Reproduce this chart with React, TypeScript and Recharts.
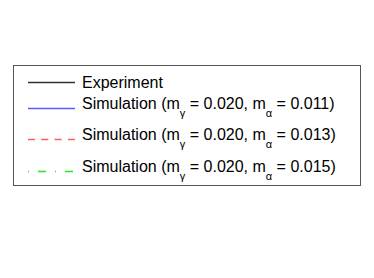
import React from 'react';
import { LineChart, Line, XAxis, YAxis, Legend } from 'recharts';

// legend labels of the figure (the plot itself is outside this crop)
const seriesKeys = ['exp', 'sim1', 'sim2', 'sim3'];
const seriesNames = ['Experiment', 'Simulation', 'Simulation', 'Simulation'];
const mGamma = [null, '0.020', '0.020', '0.020'];
const mAlpha = [null, '0.011', '0.013', '0.015'];
const seriesColors = ['#333333', '#5a5aff', '#ff5c5c', '#1ee81e'];
const seriesDash = ['', '', '7 6.3', '1 9 8 9'];

const chartData: any[] = [];

const FONT = '"Liberation Sans", Arial, Helvetica, sans-serif';

// vertical position of each row inside the legend box: [line y, text baseline]
const ROWS = [[17, 23], [43, 44], [74, 75], [106, 107]];

const LegendBox = () => (
  <svg width={349} height={122} style={{ display: 'block' }}>
    <rect x={0.5} y={0.5} width={347} height={120} fill="#fff" stroke="#555" strokeWidth={1} />
    {seriesKeys.map((key, i) => {
      const [ly, by] = ROWS[i];
      return (
        <g key={key}>
          <line x1={15} x2={62} y1={ly + 0.5} y2={ly + 0.5} stroke={seriesColors[i]}
            strokeWidth={1.3} strokeDasharray={seriesDash[i] || undefined} />
          <text x={69} y={by} fontFamily={FONT} fontSize={16} fill="#000">
            {mGamma[i] == null ? seriesNames[i] : (
              <>
                <tspan>{seriesNames[i]} (m</tspan>
                <tspan dy={8} fontSize={11}>γ</tspan>
                <tspan dy={-8}>{` = ${mGamma[i]}, m`}</tspan>
                <tspan dy={8} fontSize={11}>α</tspan>
                <tspan dy={-8}>{` = ${mAlpha[i]})`}</tspan>
              </>
            )}
          </text>
        </g>
      );
    })}
  </svg>
);

export default function App() {
  return (
    <div style={{ position: 'absolute', left: 0, top: 0, width: 374, height: 278, background: '#fff' }}>
      <LineChart width={374} height={278} data={chartData} margin={{ top: 0, right: 0, left: 0, bottom: 0 }}>
        <XAxis hide dataKey="x" />
        <YAxis hide />
        {seriesKeys.map((key, i) => (
          <Line key={key} dataKey={key} name={seriesNames[i]} stroke={seriesColors[i]}
            strokeDasharray={seriesDash[i] || undefined} dot={false} isAnimationActive={false} />
        ))}
        <Legend
          content={() => <LegendBox />}
          wrapperStyle={{ position: 'absolute', left: 13, top: 65, width: 349, height: 122 }}
        />
      </LineChart>
    </div>
  );
}
